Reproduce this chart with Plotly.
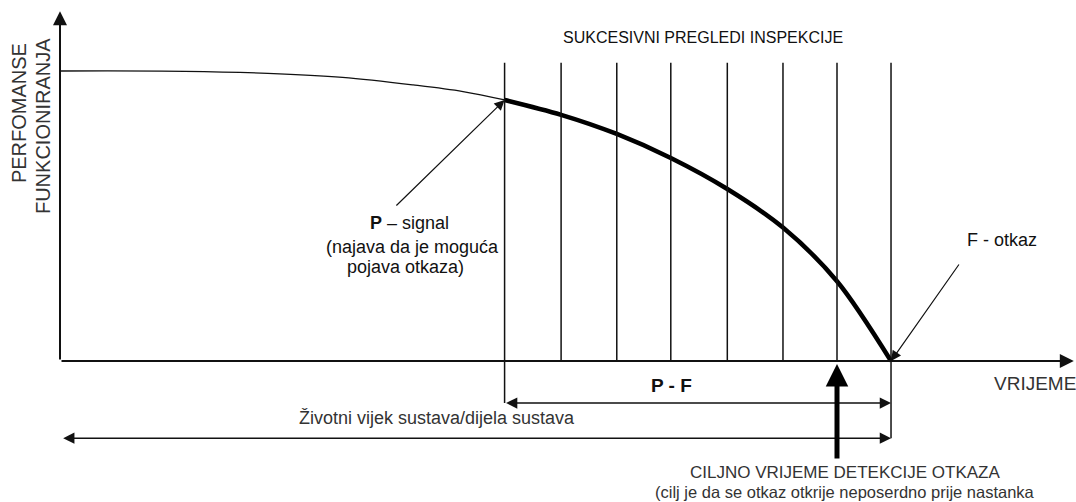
import plotly.graph_objects as go

# ---- data (time units: 0 = origin, 100 = failure F; performance units: 100 = initial level) ----
thin_t = [0, 15, 25, 34, 42.5, 48.5, 53.5]
thin_p = [100, 99.9, 99.2, 97.8, 95.2, 92.9, 90.0]

inspection_t = [53.5, 60.3, 67.0, 73.5, 80.3, 87.0, 93.5, 100.0]
thick_p = [90.0, 84.9, 78.3, 70.0, 59.3, 46.0, 27.5, 0.0]

p_signal_t, p_signal_p = 53.5, 90.0
failure_t, failure_p = 100.0, 0.0
target_t = 93.5
inspection_top = 102.8

FONT = "Arial, Liberation Sans, sans-serif"
INK = "#111111"

fig = go.Figure()

# thin curve before P
fig.add_trace(go.Scatter(x=thin_t, y=thin_p, mode="lines",
                         line=dict(color=INK, width=1.3, shape="spline", smoothing=1.0),
                         hoverinfo="skip", showlegend=False))
# thick curve P -> F
fig.add_trace(go.Scatter(x=inspection_t, y=thick_p, mode="lines",
                         line=dict(color="#000000", width=4.5, shape="spline", smoothing=0.9),
                         hoverinfo="skip", showlegend=False))

# inspection vertical lines
for i, t in enumerate(inspection_t):
    bottom = 0
    if i == 0:
        bottom = -14.5
    if i == len(inspection_t) - 1:
        bottom = -26.6
    fig.add_shape(type="line", x0=t, x1=t, y0=bottom, y1=inspection_top,
                  line=dict(color=INK, width=1.5))

anns = []

def arrow(x, y, ax, ay, width=1.5, head=2, size=1.0, both=False, color=INK):
    d = dict(x=x, y=y, ax=ax, ay=ay, xref="x", yref="y", axref="x", ayref="y",
             text="", showarrow=True, arrowhead=head, arrowsize=size,
             arrowwidth=width, arrowcolor=color, standoff=0, startstandoff=0)
    if both:
        d.update(arrowside="end+start", startarrowhead=head, startarrowsize=size)
    anns.append(d)

# axes
arrow(0, 120.6, 0, 0, width=2, head=2, size=1.4)          # y axis
arrow(122.0, 0, 0, 0, width=2, head=2, size=1.4)          # x axis
# P-F and life-time double arrows
arrow(failure_t, -14.5, p_signal_t, -14.5, width=1.5, head=2, size=1.5, both=True)
arrow(failure_t, -26.6, 0.2, -26.6, width=1.5, head=2, size=1.5, both=True)
# P signal arrow
arrow(p_signal_t, p_signal_p, 40.3, 53.1, width=1.2, head=2, size=1.7)
# F arrow
arrow(failure_t, failure_p, 108.3, 33.8, width=1.2, head=2, size=1.7)
# target detection thick arrow
arrow(target_t, -1.0, target_t, -34.1, width=5, head=2, size=0.9, color="#000000")

def text(x, y, s, size=17, angle=0, color=INK):
    anns.append(dict(x=x, y=y, xref="x", yref="y", text=s, showarrow=False,
                     textangle=angle, font=dict(family=FONT, size=size, color=color),
                     xanchor="center", yanchor="middle"))

text(77.4, 111.7, "SUKCESIVNI PREGLEDI INSPEKCIJE", size=16)
text(-4.93, 85.5, "PERFOMANSE", size=20, angle=-90, color="#333333")
text(-2.05, 81.0, "FUNKCIONIRANJA", size=20, angle=-90, color="#333333")
text(42.1, 47.6, "<b>P</b> – signal", size=18)
text(42.4, 39.3, "(najava da je moguća", size=18)
text(41.6, 32.4, "pojava otkaza)", size=18)
text(113.4, 41.7, "F - otkaz", size=18)
text(117.3, -7.6, "VRIJEME", size=19, color="#333333")
text(73.6, -8.3, "<b>P - F</b>", size=19)
text(45.4, -19.7, "Životni vijek sustava/dijela sustava", size=18, color="#333333")
text(94.5, -38.3, "CILJNO VRIJEME DETEKCIJE OTKAZA", size=17, color="#333333")
text(94.5, -45.3, "(cilj je da se otkaz otkrije neposerdno prije nastanka", size=16.5, color="#333333")

fig.update_layout(
    width=1076, height=502,
    margin=dict(l=0, r=0, t=0, b=0),
    paper_bgcolor="white", plot_bgcolor="white",
    xaxis=dict(range=[-7.22, 122.26], visible=False, fixedrange=True),
    yaxis=dict(range=[-48.62, 124.48], visible=False, fixedrange=True),
    annotations=anns,
    showlegend=False,
)

fig.write_html(
    "out.html",
    config={"displayModeBar": False, "staticPlot": True},
    post_script="document.body.style.margin='0';document.body.style.overflow='hidden';",
)
